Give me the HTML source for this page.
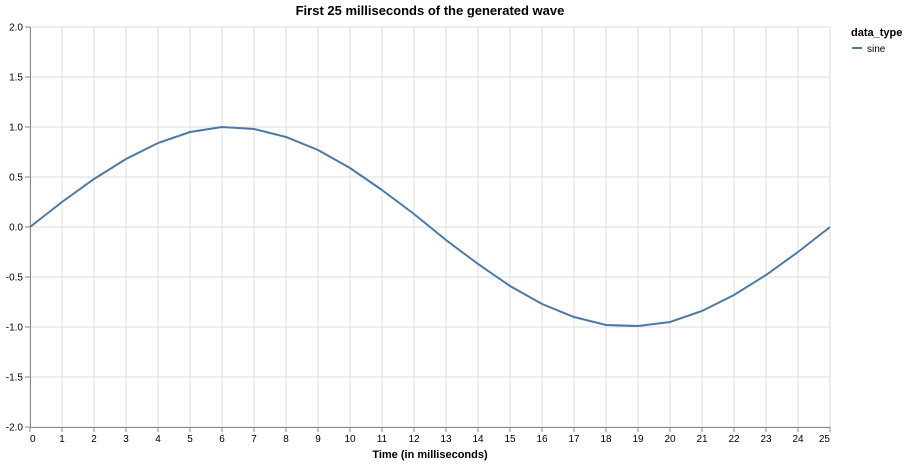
<!DOCTYPE html>
<html><head><meta charset="utf-8"><style>
body{margin:0;background:#fff;font-family:"Liberation Sans",Arial,sans-serif}
svg text{font-family:"Liberation Sans",Arial,sans-serif}
</style></head><body>
<svg id="chart" width="908" height="464" xmlns="http://www.w3.org/2000/svg">
<text x="430" y="15" text-anchor="middle" font-size="13" font-weight="bold" fill="#000">First 25 milliseconds of the generated wave</text>
<g id="grid"></g>
<g id="axes"></g>
<path id="line" fill="none" stroke="#4c78a8" stroke-width="2"/>
<text x="430" y="458" text-anchor="middle" font-size="11" font-weight="bold">Time (in milliseconds)</text>
<g>
<text x="851" y="36" font-size="11" font-weight="bold">data_type</text>
<line x1="852" y1="48" x2="862" y2="48" stroke="#4c78a8" stroke-width="2"/>
<text x="867" y="52" font-size="10">sine</text>
</g>
</svg>
<script>
const times = [0,1,2,3,4,5,6,7,8,9,10,11,12,13,14,15,16,17,18,19,20,21,22,23,24,25];
const values = [0,0.25,0.48,0.68,0.84,0.95,1.0,0.98,0.9,0.77,0.59,0.37,0.13,-0.13,-0.37,-0.59,-0.77,-0.9,-0.98,-0.99,-0.95,-0.84,-0.68,-0.48,-0.25,0];
const yTicks = [2,1.5,1,0.5,0,-0.5,-1,-1.5,-2];
const yLabels = ["2.0","1.5","1.0","0.5","0.0","-0.5","-1.0","-1.5","-2.0"];
const X0=30,X1=830,Y0=27,Y1=427;
const xs=t=>X0+(t-0)/25*(X1-X0);
const ys=v=>Y0+(2-v)/4*(Y1-Y0);
const NS="http://www.w3.org/2000/svg";
const grid=document.getElementById('grid'),axes=document.getElementById('axes');
function mk(tag,attrs,parent){const e=document.createElementNS(NS,tag);for(const k in attrs)e.setAttribute(k,attrs[k]);parent.appendChild(e);return e;}
times.forEach((t,i)=>{
  const g=mk('line',{x1:xs(t),x2:xs(t),y1:Y0,y2:Y1,stroke:'#ddd'},grid);
  
  
  const tk=mk('line',{x1:xs(t),x2:xs(t),y1:Y1,y2:Y1+5,stroke:'#888'},axes);
  
  
  const first=i===0,last=i===times.length-1;
  const tx=mk('text',{x:xs(t)+(first?0:0),y:Y1+15,'text-anchor':first?'start':(last?'end':'middle'),'font-size':10,fill:'#000'},axes);
  tx.textContent=t;
  
  
});
yTicks.forEach((v,i)=>{
  const g=mk('line',{x1:X0,x2:X1,y1:ys(v),y2:ys(v),stroke:'#ddd'},grid);
  
  
  const tk=mk('line',{x1:X0-5,x2:X0,y1:ys(v),y2:ys(v),stroke:'#888'},axes);
  
  
  const tx=mk('text',{x:X0-7,y:ys(v)+3.5,'text-anchor':'end','font-size':10,fill:'#000'},axes);
  tx.textContent=yLabels[i];
  
  
});
const xa=mk('line',{x1:X0,x2:X1,y1:Y1+0.5,y2:Y1+0.5,stroke:'#888'},axes);


const ya=mk('line',{x1:X0+0.5,x2:X0+0.5,y1:Y0,y2:Y1,stroke:'#888'},axes);


document.getElementById('line').setAttribute('d',times.map((t,i)=>(i?'L':'M')+xs(t)+','+ys(values[i])).join(''));
</script>
</body></html>
